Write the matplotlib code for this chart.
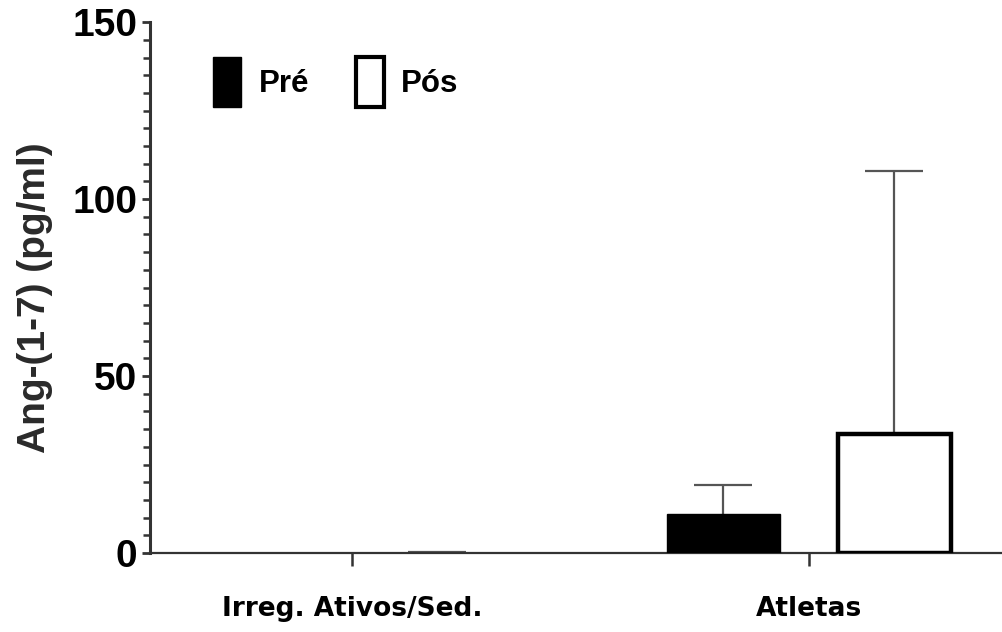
import numpy as np
import matplotlib.pyplot as plt
from matplotlib.patches import Patch
from matplotlib.ticker import MultipleLocator

plt.rcParams['font.family'] = ['Liberation Sans', 'DejaVu Sans']

# dados: média e erro (só para cima) de Ang-(1-7)
grupos = ['Irreg. Ativos/Sed.', 'Atletas']
pre_media = [0.0, 11.0]
pre_erro = [0.0, 8.3]
pos_media = [0.0, 33.6]
pos_erro = [0.4, 74.3]

x = np.arange(len(grupos))
largura = 0.247
desloc = 0.187
cap = 0.127

fig = plt.figure(figsize=(10.03, 6.32), dpi=100)
ax = fig.add_axes([0.1496, 0.125, 0.8504, 0.84])

cor_erro = '#555555'
# barras com altura zero ficam sem contorno
lw_pre = [1 if v > 0 else 0 for v in pre_media]
lw_pos = [3.2 if v > 0 else 0 for v in pos_media]
ax.bar(x - desloc, pre_media, largura, color='black', edgecolor='black',
       linewidth=lw_pre, zorder=3)
ax.bar(x + desloc, pos_media, largura, color='white', edgecolor='black',
       linewidth=lw_pos, zorder=3)


def erro_para_cima(xc, media, erro):
    # haste vertical + traço no topo
    if erro <= 0:
        return
    topo = media + erro
    ax.vlines(xc, media, topo, color=cor_erro, linewidth=1.6, zorder=2)
    ax.hlines(topo, xc - cap / 2, xc + cap / 2, color=cor_erro, linewidth=1.6, zorder=2)


for i in range(len(grupos)):
    erro_para_cima(x[i] - desloc, pre_media[i], pre_erro[i])
    erro_para_cima(x[i] + desloc, pos_media[i], pos_erro[i])

ax.set_xlim(-0.442, 1.425)
ax.set_ylim(0, 150)
ax.yaxis.set_major_locator(MultipleLocator(50))
ax.yaxis.set_minor_locator(MultipleLocator(5))
ax.set_xticks(x)
ax.set_xticklabels(grupos, fontsize=19, fontweight='bold', family='DejaVu Sans')

for lbl in ax.get_yticklabels():
    lbl.set_fontsize(28)
    lbl.set_fontweight('bold')

ax.spines['top'].set_visible(False)
ax.spines['right'].set_visible(False)
ax.spines['left'].set_linewidth(2.2)
ax.spines['bottom'].set_linewidth(1.6)
ax.spines['left'].set_color('#333333')
ax.spines['bottom'].set_color('#333333')

ax.tick_params(axis='y', which='major', length=6, width=2, color='#333333', pad=3)
ax.tick_params(axis='y', which='minor', length=5, width=1.8, color='#333333')
ax.tick_params(axis='x', which='major', length=9, width=1.8, color='#333333', pad=22)

ax.set_ylabel('Ang-(1-7) (pg/ml)', fontsize=28, fontweight='bold',
              color='#2a2a2a')
ax.yaxis.set_label_coords(-0.114, 0.48)

handles = [Patch(facecolor='black', edgecolor='black', linewidth=1),
           Patch(facecolor='white', edgecolor='black', linewidth=3)]
ax.legend(handles, ['Pré', 'Pós'], loc='upper left', bbox_to_anchor=(0.074, 0.934),
          ncol=2, frameon=False, handlelength=0.9, handleheight=2.1,
          handletextpad=0.55, columnspacing=1.5, borderpad=0, borderaxespad=0,
          prop={'size': 22.5, 'weight': 'bold'})

fig.savefig('out.png', dpi=100)
